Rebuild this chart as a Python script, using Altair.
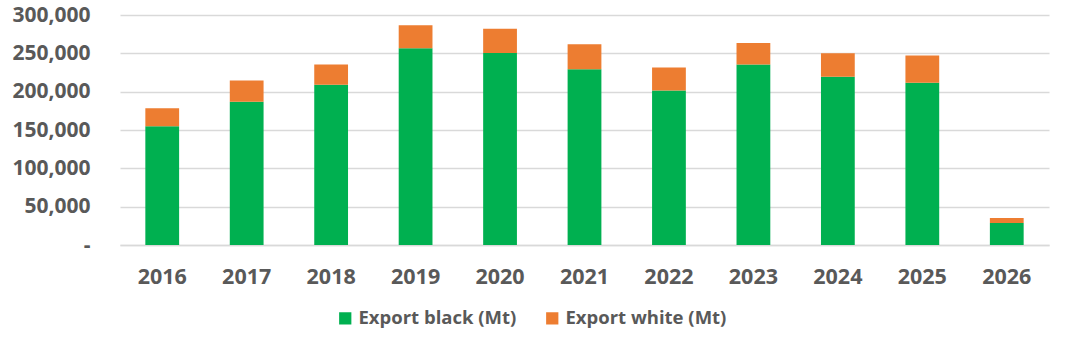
import altair as alt
import pandas as pd

years = ["2016", "2017", "2018", "2019", "2020", "2021", "2022", "2023", "2024", "2025", "2026"]
export_black = [155000, 187000, 209000, 256500, 250500, 229300, 201600, 235400, 219300, 211500, 28600]
export_white = [23500, 27600, 26400, 30000, 31700, 32500, 29900, 28100, 30800, 35600, 6500]
series = ["Export black (Mt)", "Export white (Mt)"]
colors = ["#00B050", "#ED7D31"]

rows = []
for i, y in enumerate(years):
    rows.append({"year": y, "series": series[0], "value": export_black[i], "order": 0})
    rows.append({"year": y, "series": series[1], "value": export_white[i], "order": 1})
df = pd.DataFrame(rows)

FONT = "Open Sans"
GREY = "#595959"

chart = alt.Chart(df).mark_bar().encode(
    x=alt.X("year:N", sort=years, title=None,
            scale=alt.Scale(paddingInner=0.6, paddingOuter=0.3),
            axis=alt.Axis(labelAngle=0, labelFont=FONT, labelFontSize=21.5, labelFontWeight="bold",
                          labelColor=GREY, labelPadding=21, ticks=False, domainColor="#D9D9D9",
                          domainWidth=1.5)),
    y=alt.Y("value:Q", stack="zero", title=None,
            scale=alt.Scale(domain=[0, 300000], nice=False),
            axis=alt.Axis(values=[0, 50000, 100000, 150000, 200000, 250000, 300000],
                          labelExpr="datum.value == 0 ? '-\u00a0\u00a0\u00a0' : format(datum.value, ',')",
                          labelFont=FONT, labelFontSize=21, labelFontWeight="bold",
                          labelColor=GREY, labelPadding=30, ticks=False, domain=False,
                          gridColor="#D9D9D9", gridWidth=1.5)),
    color=alt.Color("series:N", sort=series,
                    scale=alt.Scale(domain=series, range=colors),
                    legend=alt.Legend(title=None, orient="none", legendX=216, legendY=294,
                                      direction="horizontal", symbolType="square", symbolSize=150,
                                      symbolStrokeWidth=0, labelFont=FONT, labelFontSize=18.5,
                                      labelFontWeight="bold", labelColor=GREY, columnPadding=26,
                                      labelOffset=4, labelLimit=300)),
    order=alt.Order("order:Q", sort="ascending"),
).properties(
    width=929, height=230,
    padding={"left": 120, "top": 15, "right": 31, "bottom": 93},
    autosize=alt.AutoSizeParams(type="none"),
    background="white",
).configure_view(stroke=None)

chart.save("out.html", embed_options={"renderer": "svg", "actions": False})
